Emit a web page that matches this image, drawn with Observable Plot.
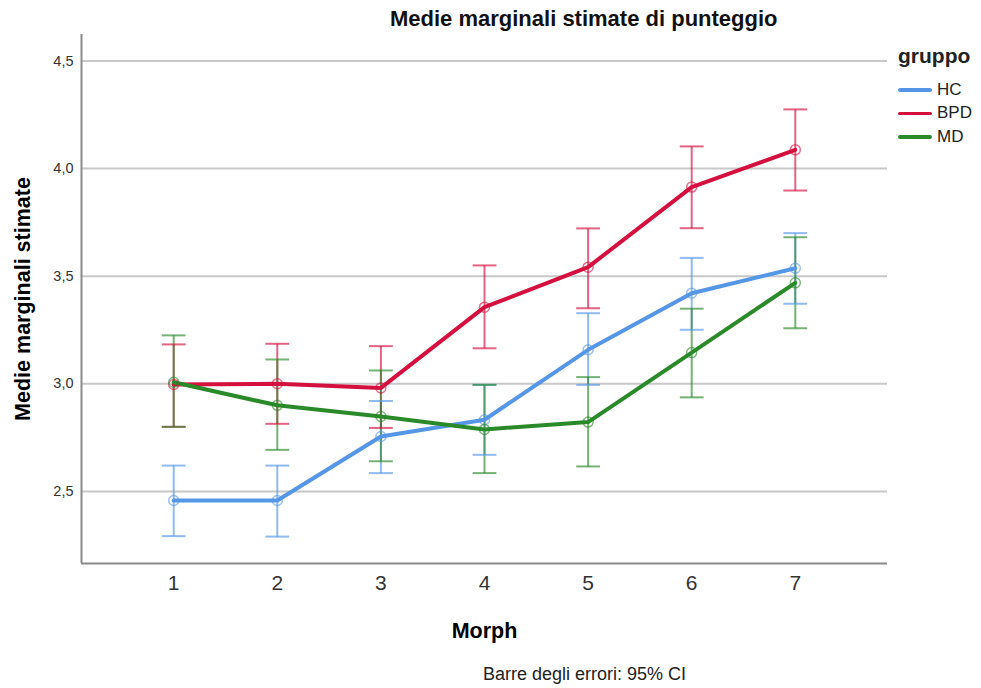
<!DOCTYPE html>
<html>
<head>
<meta charset="utf-8">
<script src="https://cdn.jsdelivr.net/npm/d3@7"></script>
<script src="https://cdn.jsdelivr.net/npm/@observablehq/plot@0.6"></script>
<style>
  html, body { margin: 0; padding: 0; background: #fff; }
  #wrap { position: relative; width: 981px; height: 688px; font-family: "Liberation Sans", Arial, sans-serif; }
  #wrap svg { position: absolute; left: 0; top: 0; }
  .title { position: absolute; left: 390px; top: 6px; font-weight: bold; font-size: 22px; line-height: 26px; color: #111; white-space: nowrap; }
  .legend { position: absolute; left: 898px; top: 43px; color: #222; }
  .legend .head { font-weight: bold; font-size: 21px; line-height: 26px; margin-bottom: 9px; }
  .legend .item { display: flex; align-items: center; height: 23.5px; font-size: 17px; font-family: "Liberation Sans Narrow", "Liberation Sans", Arial, sans-serif; }
  .legend .sw { width: 34px; height: 3.5px; margin-right: 5px; border-radius: 2px; }
  .caption { position: absolute; left: 483px; top: 664px; font-family: "Liberation Sans Narrow", "Liberation Sans", Arial, sans-serif; font-size: 18px; line-height: 21px; color: #222; white-space: nowrap; }
</style>
</head>
<body>
<div id="wrap"></div>
<script>
// Estimated marginal means of "punteggio" by Morph level, with 95% CI
const morph = [1, 2, 3, 4, 5, 6, 7];
const groups = ["HC", "BPD", "MD"];
const groupColors = ["#5596e6", "#d5103f", "#2a8a2a"];

const hcMean  = [2.458, 2.458, 2.755, 2.833, 3.158, 3.421, 3.537];
const hcLow   = [2.292, 2.290, 2.585, 2.670, 2.995, 3.251, 3.372];
const hcHigh  = [2.620, 2.620, 2.920, 2.995, 3.328, 3.585, 3.700];

const bpdMean = [2.997, 3.000, 2.981, 3.356, 3.542, 3.914, 4.087];
const bpdLow  = [2.800, 2.814, 2.795, 3.165, 3.351, 3.723, 3.898];
const bpdHigh = [3.183, 3.186, 3.175, 3.550, 3.722, 4.103, 4.275];

const mdMean  = [3.007, 2.900, 2.848, 2.788, 2.822, 3.145, 3.469];
const mdLow   = [2.800, 2.693, 2.640, 2.585, 2.616, 2.937, 3.258];
const mdHigh  = [3.225, 3.113, 3.062, 2.995, 3.031, 3.349, 3.681];

const yTicks = [2.5, 3.0, 3.5, 4.0, 4.5];

const series = [
  {group: "HC",  mean: hcMean,  low: hcLow,  high: hcHigh},
  {group: "BPD", mean: bpdMean, low: bpdLow, high: bpdHigh},
  {group: "MD",  mean: mdMean,  low: mdLow,  high: mdHigh}
];
const rows = series.flatMap(s => morph.map((m, i) => ({
  morph: m, group: s.group, mean: s.mean[i], low: s.low[i], high: s.high[i]
})));

const capHalf = 0.115; // half the cap width, in Morph units
const comma = d => d.toFixed(1).replace(".", ",");

const chart = Plot.plot({
  width: 981,
  height: 688,
  marginLeft: 81,
  marginRight: 94,
  marginTop: 34,
  marginBottom: 125,
  style: {fontFamily: "'Liberation Sans', Arial, sans-serif", background: "transparent"},
  x: {domain: [0.11, 7.89]},
  y: {domain: [2.165, 4.623]},
  color: {domain: groups, range: groupColors},
  marks: [
    Plot.gridY(yTicks, {stroke: "#c8c8c8", strokeOpacity: 1, strokeWidth: 2}),
    Plot.ruleX([0.11], {stroke: "#8a8a8a", strokeWidth: 2}),
    Plot.ruleY([2.165], {stroke: "#8a8a8a", strokeWidth: 2}),
    Plot.axisY(yTicks, {
      tickSize: 0, tickPadding: 8, tickFormat: comma, fontSize: 14.5, fill: "#333",
      label: "Medie marginali stimate", labelAnchor: "center", labelArrow: false, labelOffset: 67
    }),
    Plot.axisX(morph, {
      tickSize: 0, tickPadding: 12, fontSize: 21, fill: "#333",
      fontFamily: "'Liberation Sans Narrow', 'Liberation Sans', Arial, sans-serif",
      label: "Morph", labelAnchor: "center", labelArrow: false, labelOffset: 74
    }),
    // error bars: whisker + caps
    Plot.link(rows, {x1: "morph", x2: "morph", y1: "low", y2: "high", stroke: "group", strokeWidth: 2, strokeOpacity: 0.65}),
    Plot.link(rows, {x1: d => d.morph - capHalf, x2: d => d.morph + capHalf, y1: "high", y2: "high", stroke: "group", strokeWidth: 2, strokeOpacity: 0.65}),
    Plot.link(rows, {x1: d => d.morph - capHalf, x2: d => d.morph + capHalf, y1: "low", y2: "low", stroke: "group", strokeWidth: 2, strokeOpacity: 0.65}),
    // mean profiles
    Plot.line(rows, {x: "morph", y: "mean", z: "group", stroke: "group", strokeWidth: 4}),
    Plot.dot(rows, {x: "morph", y: "mean", stroke: "group", r: 5, strokeWidth: 1.5, strokeOpacity: 0.6, fill: "none"})
  ]
});

// bold axis titles
chart.querySelectorAll("g[aria-label='y-axis label'] text, g[aria-label='x-axis label'] text").forEach(t => {
  t.setAttribute("font-weight", "bold");
  t.setAttribute("font-size", "21.5");
  t.setAttribute("fill", "#000");
});

const wrap = document.getElementById("wrap");
wrap.appendChild(chart);

const title = document.createElement("div");
title.className = "title";
title.textContent = "Medie marginali stimate di punteggio";
wrap.appendChild(title);

const legend = document.createElement("div");
legend.className = "legend";
legend.innerHTML = `<div class="head">gruppo</div>` + groups.map((g, i) =>
  `<div class="item"><span class="sw" style="background:${groupColors[i]}"></span>${g}</div>`).join("");
wrap.appendChild(legend);

const caption = document.createElement("div");
caption.className = "caption";
caption.textContent = "Barre degli errori: 95% CI";
wrap.appendChild(caption);
</script>
</body>
</html>
